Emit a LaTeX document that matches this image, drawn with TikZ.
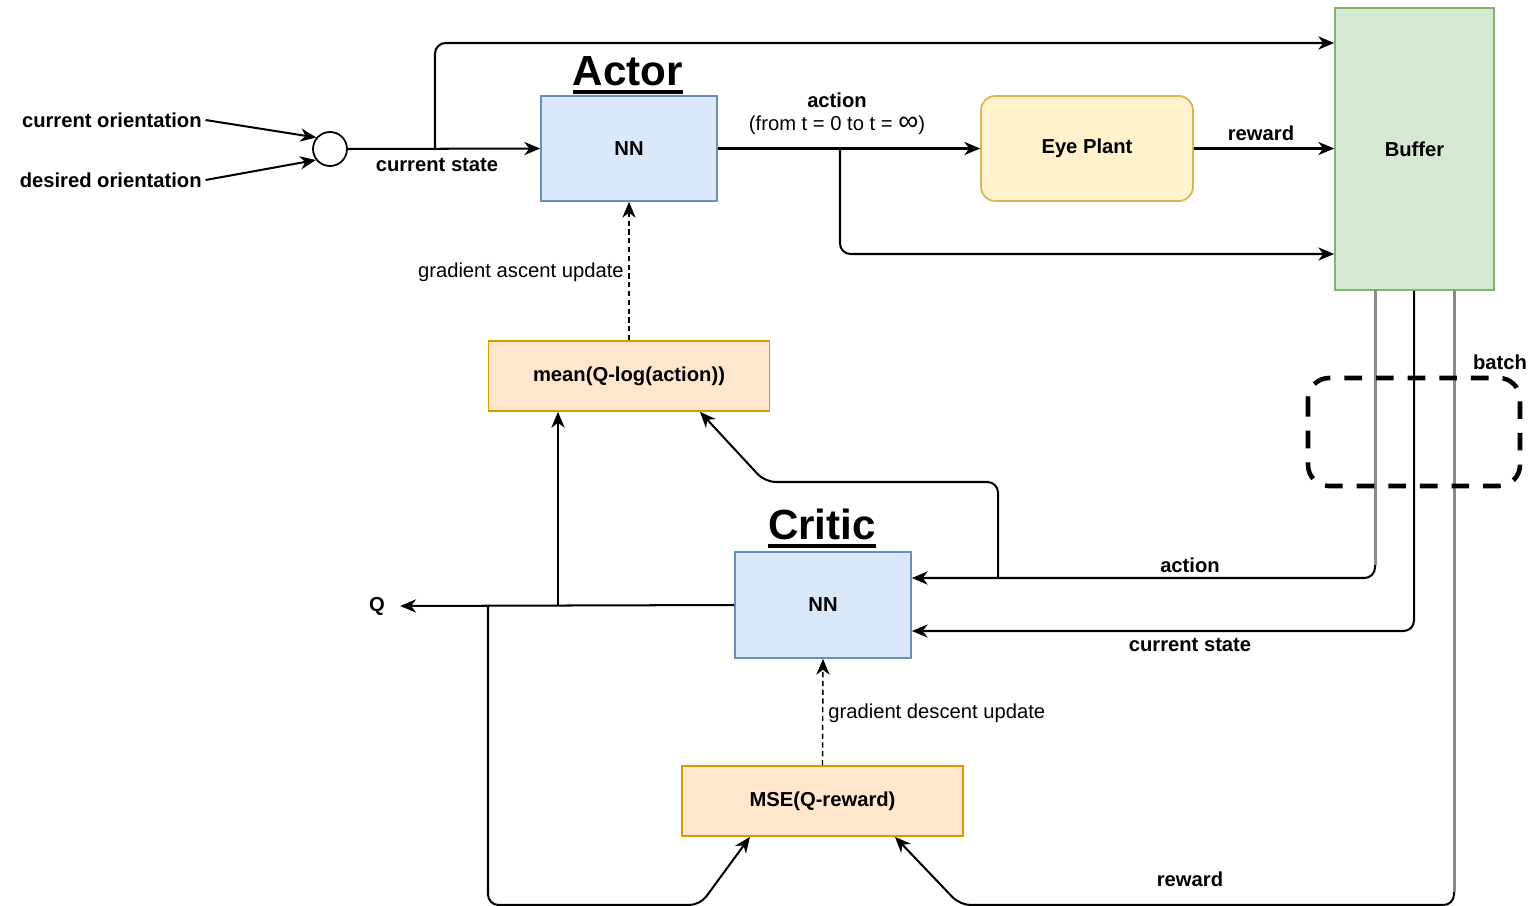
\documentclass[tikz,border=0pt]{standalone}
\usepackage{fontspec}
\setmainfont{Liberation Sans}
\usetikzlibrary{arrows.meta,calc}
\definecolor{nnfill}{HTML}{DAE8FC}\definecolor{nndraw}{HTML}{6C8EBF}
\definecolor{plantfill}{HTML}{FFF2CC}\definecolor{plantdraw}{HTML}{D6B656}
\definecolor{buffill}{HTML}{D5E8D4}\definecolor{bufdraw}{HTML}{82B366}
\definecolor{lossfill}{HTML}{FFE6CC}\definecolor{lossdraw}{HTML}{D79B00}
\definecolor{edgegray}{HTML}{8A8A8A}
\begin{document}
\begin{tikzpicture}[x=0.02cm,y=-0.02cm,
  lbl/.style={font=\fontsize{11.5}{13}\selectfont\bfseries, inner sep=0pt},
  rlbl/.style={font=\fontsize{11.5}{13}\selectfont, inner sep=0pt},
  titlelbl/.style={font=\fontsize{24}{28}\selectfont\bfseries, inner sep=0pt, anchor=base},
  box/.style={draw, line width=1pt, inner sep=0pt, font=\fontsize{11.5}{13}\selectfont\bfseries},
  nn/.style={box, fill=nnfill, draw=nndraw, minimum width=3.52cm, minimum height=2.1cm},
  loss/.style={box, fill=lossfill, draw=lossdraw, minimum width=5.62cm, minimum height=1.4cm},
  conn/.style={line width=1.15pt, rounded corners=6pt},
  arr/.style={conn, -{Stealth[length=9pt,width=7.5pt,inset=2.8pt]}},
  dasharr/.style={arr, line width=0.8pt, dash pattern=on 3pt off 2pt},
  uline/.style={line width=2.2pt}
]
\useasboundingbox (0,0) rectangle (1532,906);

% nodes
\node[nn] (actor) at (629,148.5) {NN};
\node[box, fill=plantfill, draw=plantdraw, rounded corners=8pt, minimum width=4.24cm, minimum height=2.1cm] (plant) at (1087,148.5) {Eye Plant};
\node[box, fill=buffill, draw=bufdraw, minimum width=3.18cm, minimum height=5.64cm] (buffer) at (1414.5,149) {Buffer};
\node[loss] (mean) at (629,376) {mean(Q-log(action))};
\node[nn, minimum height=2.12cm] (cnn) at (823,605) {NN};
\node[loss] (mse) at (822.5,801) {MSE(Q-reward)};
\node[draw, circle, line width=1pt, minimum size=0.68cm, inner sep=0pt] (circ) at (330,149) {};

\node[titlelbl] (actorT) at (628,85) {Actor};
\draw[uline] ([yshift=-4pt]actorT.base west) -- ([yshift=-4pt]actorT.base east);
\node[titlelbl] (criticT) at (822,539) {Critic};
\draw[uline] ([yshift=-4pt]criticT.base west) -- ([yshift=-4pt]criticT.base east);

% labels
\node[lbl, anchor=east] (co) at (202,120) {current orientation};
\node[lbl, anchor=east] (do) at (202,180) {desired orientation};
\node[lbl] (csl) at (437,165) {current state};
\node[lbl] (actl) at (837,100) {action};
\node[rlbl] (fromt) at (837,125) {(from t = 0 to t = {\fontsize{16}{13}\selectfont ∞})};
\node[lbl] (rewl) at (1261,133) {reward};
\node[lbl] (batchl) at (1500,362) {batch};
\node[rlbl, anchor=east] (gal) at (624,272) {gradient ascent update};
\node[rlbl, anchor=west] (gdl) at (828,713) {gradient descent update};
\node[lbl] (cactl) at (1190,565) {action};
\node[lbl] (ccsl) at (1190,645) {current state};
\node[lbl] (crewl) at (1190,879) {reward};
\node[lbl] (Q) at (377,606) {Q};

% coordinates
\coordinate (j1) at (435,149);
\coordinate (bin1) at (buffer.west |- 0,43);
\coordinate (j2) at (840,149);
\coordinate (bin3) at (buffer.west |- 0,254);
\coordinate (b1) at (buffer.south -| 1375,0);
\coordinate (b2) at (buffer.south -| 1414,0);
\coordinate (b3) at (buffer.south -| 1454,0);
\coordinate (cin1) at (cnn.east |- 0,578);
\coordinate (cin2) at (cnn.east |- 0,631);
\coordinate (j3) at (998,578);
\coordinate (j4) at (558,605);
\coordinate (j5) at (488,605);
\coordinate (qin) at ($(Q.east)+(15,0)$);

% connectors
\draw[arr] ([xshift=2pt]co.east) -- (circ.140);
\draw[arr] ([xshift=2pt]do.east) -- (circ.218);
\draw[arr] (circ.east) -- (actor.west);
\draw[arr] (j1) |- (bin1);
\draw[arr] (actor.east) -- (plant.west);
\draw[arr] (j2) |- (bin3);
\draw[arr] (plant.east) -- (buffer.west |- plant.east);
\draw[arr] (b1) |- (cin1);
\draw[arr] (b2) |- (cin2);
\draw[arr] (b3) -- (1454,905) -- (960,905) -- (mse.south -| 895,0);
\draw[line width=1.7pt, edgegray] (b1) -- (1375,565);
\draw[line width=1.7pt, edgegray] (b3) -- (1454,892);
\draw[line width=2.6pt, dash pattern=on 10pt off 8pt, rounded corners=12pt] (1308,378) rectangle (1520,486);
\draw[dasharr] (mean.north) -- (actor.south);
\draw[arr] (cnn.west) -- (qin);
\draw[arr] (j4) -- (mean.south -| j4);
\draw[arr] (j3) -- (998,482) -- (765,482) -- (mean.south -| 700,0);
\draw[arr] (j5) -- (488,905) -- (700,905) -- (mse.south -| 750,0);
\draw[dasharr] (mse.north) -- (cnn.south);
\end{tikzpicture}
\end{document}
